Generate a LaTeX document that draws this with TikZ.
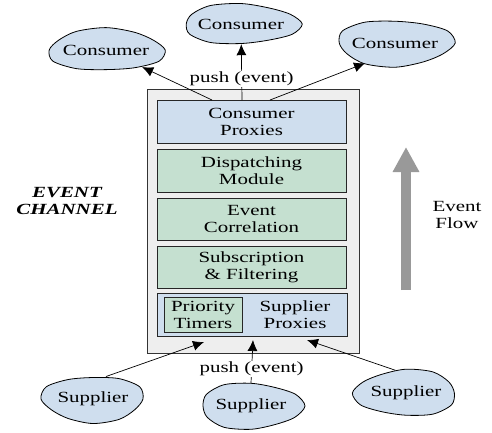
\documentclass[tikz,border=0pt]{standalone}
\usepackage{fontspec}
\setmainfont{Liberation Serif}[FakeStretch=1.35]
\usepackage{tikz}
\usetikzlibrary{shapes.geometric,arrows.meta,positioning}
\usepackage{xcolor}
\definecolor{proxyblue}{RGB}{207,222,238}
\definecolor{modgreen}{RGB}{197,224,208}
\definecolor{chgray}{RGB}{238,238,238}
\definecolor{flowgray}{RGB}{153,153,153}
% wavy outline behind a consumer/supplier: centre x, centre y, radius x, radius y, phase
\newcommand{\blobshape}[5]{%
  \filldraw[blobline] plot[smooth cycle,variable=\t,samples at={0,30,...,330}]
    ({#1+#3*cos(\t)*(1+0.06*sin(3*\t+#5))},{#2+#4*sin(\t)*(1+0.07*sin(3*\t+#5))});}
\tikzset{
  txt/.style={font=\fontsize{15.5}{17}\selectfont,align=center,inner sep=0pt},
  blobline/.style={draw=black,line width=0.8pt,fill=proxyblue},
  blob/.style={ellipse,txt},
  layer/.style={rectangle,draw=black!85,line width=1pt,minimum width=189pt,
    minimum height=43pt,txt},
  push/.style={-{Latex[length=11pt,width=10pt]},line width=0.7pt},
  flow/.style={-{Triangle[length=25pt,width=25pt]},line width=10pt,draw=flowgray}
}

\begin{document}
\begin{tikzpicture}[x=1pt,y=-1pt]
  \useasboundingbox (0,0) rectangle (492,432);

  % event channel and its layers
  \node[rectangle,draw=black!80,line width=0.8pt,fill=chgray,
        minimum width=212pt,minimum height=264pt] (channel) at (253,221) {};
  \node[layer,fill=proxyblue] (cprox) at (251.5,121.5) {Consumer\\Proxies};
  \node[layer,fill=modgreen] (dispatch) at (251.5,170.5) {Dispatching\\Module};
  \node[layer,fill=modgreen,minimum height=42pt] (correl) at (251.5,219) {Event\\Correlation};
  \node[layer,fill=modgreen,minimum height=42pt] (subscr) at (251.5,267) {Subscription\\\&\ Filtering};
  \node[layer,fill=proxyblue,minimum width=190pt] (sprox) at (252,314.5) {};
  \node[layer,fill=modgreen,minimum width=78pt,minimum height=35pt] (timers) at (203,314.5) {Priority\\Timers};
  \node[txt] (sproxtext) at (295,314.5) {Supplier\\Proxies};

  \node[txt,font=\fontsize{15.5}{17}\selectfont\bfseries\itshape] (chname) at (67,201) {EVENT\\CHANNEL};

  % consumers
  \blobshape{106}{50}{58}{21}{20}
  \blobshape{241}{24}{58}{20}{70}
  \blobshape{395}{43}{58}{23}{140}
  \node[blob,minimum width=120pt,minimum height=42pt] (cons1) at (106,50) {Consumer};
  \node[blob,minimum width=120pt,minimum height=40pt] (cons2) at (241,24) {Consumer};
  \node[blob,minimum width=120pt,minimum height=46pt] (cons3) at (395,43) {Consumer};

  % suppliers
  \blobshape{93}{399}{51}{23}{200}
  \blobshape{251}{406}{51}{23}{100}
  \blobshape{406}{393}{51}{23}{300}
  \node[blob,minimum width=104pt,minimum height=46pt] (supp1) at (93,399) {Supplier};
  \node[blob,minimum width=104pt,minimum height=46pt] (supp2) at (251,406) {Supplier};
  \node[blob,minimum width=104pt,minimum height=46pt] (supp3) at (406,393) {Supplier};

  % push towards consumers
  \coordinate (out1) at (212,100);
  \coordinate (out2) at (242,100);
  \coordinate (out3) at (270,100);
  \draw[push] (out1) -- (cons1);
  \draw[push] (out2) -- (cons2) node[txt,fill=white,inner sep=1pt,pos=0.38] (pushout) {push (event)};
  \draw[push] (out3) -- (cons3.214);

  % push from suppliers
  \coordinate (in1) at (204,342);
  \coordinate (in2) at (253,340);
  \coordinate (in3) at (307,340);
  \draw[push] (supp1.60) -- (in1);
  \draw[push] (supp2.north) -- (in2) node[txt,fill=white,inner sep=1pt,pos=0.33] (pushin) {push (event)};
  \draw[push] (supp3.115) -- (in3);

  % event flow
  \coordinate (flowbot) at (406,290);
  \coordinate (flowtop) at (406,147);
  \draw[flow] (flowbot) -- (flowtop);
  \node[txt] (flowtext) at (457,215) {Event\\Flow};
\end{tikzpicture}
\end{document}
